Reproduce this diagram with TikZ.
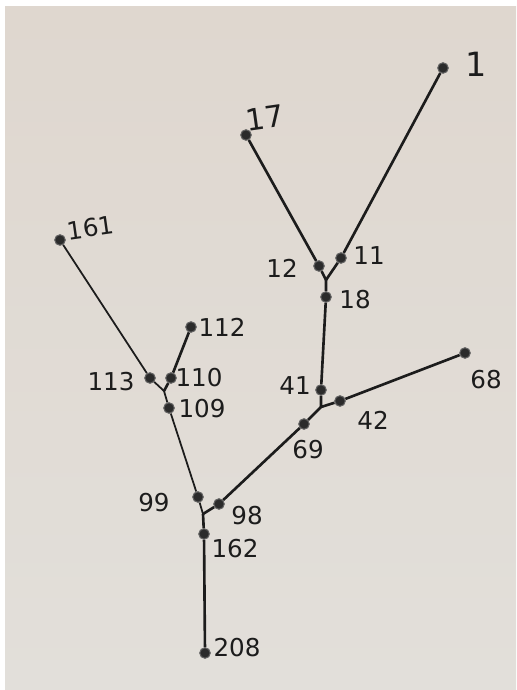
\documentclass[tikz,border=0pt]{standalone}
\usepackage{fontspec}
\setmainfont{DejaVu Sans}
\definecolor{ink}{HTML}{1C1C1C}
\definecolor{dotc}{HTML}{2B2B2B}
\definecolor{papert}{HTML}{DFD7CF}
\definecolor{paperb}{HTML}{E2DFDA}

\begin{document}
\begin{tikzpicture}[x=0.2mm, y=-0.2mm,
    pt/.style={circle, draw=ink!70, fill=dotc, line width=0.6pt, inner sep=0pt, minimum size=2.1mm},
    lbl/.style={font=\fontsize{14}{14}\selectfont, text=ink, inner sep=1pt},
    edge/.style={draw=ink, line width=1.5pt},
    thin/.style={draw=ink, line width=1pt}]
  % page and sheet
  \fill[white] (0,0) rectangle (516,690);
  \shade[top color=papert, bottom color=paperb] (5,7) rectangle (516,690);
  \useasboundingbox (0,0) rectangle (516,690);

  % branch points
  \coordinate (jy) at (326,280);
  \coordinate (j41) at (321,407);
  \coordinate (j99) at (203,514);
  \coordinate (j113) at (164,391);

  % dots
  \node[pt] (n1) at (443,68) {};
  \node[pt] (n17) at (246,135) {};
  \node[pt] (n12) at (319,266) {};
  \node[pt] (n11) at (341,258) {};
  \node[pt] (n18) at (326,297) {};
  \node[pt] (n41) at (321,390) {};
  \node[pt] (n42) at (340,401) {};
  \node[pt] (n68) at (465,353) {};
  \node[pt] (n69) at (304,424) {};
  \node[pt] (n98) at (219,504) {};
  \node[pt] (n99) at (198,497) {};
  \node[pt] (n162) at (204,534) {};
  \node[pt] (n208) at (205,653) {};
  \node[pt] (n161) at (60,240) {};
  \node[pt] (n112) at (191,327) {};
  \node[pt] (n113) at (150,378) {};
  \node[pt] (n110) at (171,378) {};
  \node[pt] (n109) at (169,408) {};

  % labels
  \node[lbl, font=\fontsize{19}{19}\selectfont] (l1) at (476,64) {1};
  \node[lbl, font=\fontsize{17}{17}\selectfont, rotate=8] (l17) at (265,118) {17};
  \node[lbl] (l12) at (282,268) {12};
  \node[lbl] (l11) at (369,256) {11};
  \node[lbl] (l18) at (355,300) {18};
  \node[lbl] (l41) at (295,386) {41};
  \node[lbl] (l42) at (373,420) {42};
  \node[lbl] (l68) at (486,380) {68};
  \node[lbl] (l69) at (308,450) {69};
  \node[lbl] (l98) at (247,516) {98};
  \node[lbl] (l99) at (154,503) {99};
  \node[lbl] (l162) at (235,549) {162};
  \node[lbl] (l208) at (237,648) {208};
  \node[lbl, rotate=8] (l161) at (91,228) {161};
  \node[lbl] (l112) at (222,327) {112};
  \node[lbl] (l113) at (111,382) {113};
  \node[lbl] (l110) at (199,378) {110};
  \node[lbl] (l109) at (202,409) {109};

  % right tree
  \draw[edge] (n1) -- (n11) -- (jy);
  \draw[edge] (n17) -- (n12) -- (jy);
  \draw[edge] (jy) -- (n18) -- (n41) -- (j41);
  \draw[edge] (j41) -- (n42) -- (n68);
  \draw[edge] (j41) -- (n69) -- (n98) -- (j99);
  % left tree
  \draw[thin] (n161) -- (n113) -- (j113);
  \draw[edge] (n112) -- (n110) -- (j113);
  \draw[thin] (j113) -- (n109) -- (n99) -- (j99);
  \draw[edge] (j99) -- (n162) -- (n208);
\end{tikzpicture}
\end{document}
